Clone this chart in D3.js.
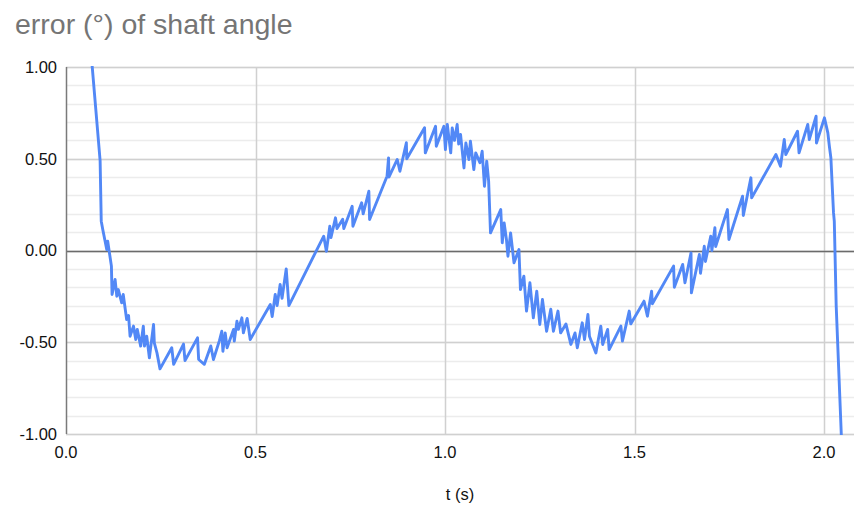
<!DOCTYPE html>
<html>
<head>
<meta charset="utf-8">
<script src="https://cdn.jsdelivr.net/npm/d3@7"></script>
<style>
  body { margin: 0; background: #fff; }
  svg { display: block; font-family: Arial, "Liberation Sans", sans-serif; }
</style>
</head>
<body>
<svg id="chart" width="867" height="528"></svg>
<script>
// values
const tSec = [
  0.068, 0.090, 0.093, 0.097, 0.1075, 0.110, 0.1198, 0.1215, 0.1295, 0.134,
  0.138, 0.147, 0.151, 0.160, 0.165, 0.169, 0.178, 0.184, 0.188, 0.197,
  0.204, 0.207, 0.213, 0.220, 0.231, 0.233, 0.240, 0.248, 0.279, 0.284,
  0.310, 0.314, 0.347, 0.350, 0.365, 0.382, 0.389, 0.405, 0.411, 0.414,
  0.420, 0.425, 0.442, 0.444, 0.451, 0.455, 0.464, 0.468, 0.478, 0.486,
  0.539, 0.544, 0.552, 0.557, 0.565, 0.570, 0.581, 0.588, 0.662, 0.680,
  0.687, 0.696, 0.699, 0.711, 0.715, 0.730, 0.733, 0.755, 0.757, 0.780,
  0.784, 0.799, 0.801, 0.847, 0.851, 0.852, 0.874, 0.881, 0.898, 0.899,
  0.946, 0.948, 0.975, 0.977, 0.997, 1.001, 1.006, 1.015, 1.019, 1.025,
  1.032, 1.036, 1.041, 1.050, 1.055, 1.063, 1.067, 1.076, 1.081, 1.092,
  1.098, 1.104, 1.110, 1.115, 1.120, 1.147, 1.151, 1.156, 1.162, 1.166,
  1.173, 1.182, 1.195, 1.199, 1.208, 1.215, 1.224, 1.233, 1.242, 1.250,
  1.257, 1.268, 1.279, 1.286, 1.298, 1.305, 1.319, 1.332, 1.343, 1.349,
  1.362, 1.368, 1.377, 1.381, 1.398, 1.411, 1.416, 1.429, 1.433, 1.464,
  1.468, 1.486, 1.490, 1.525, 1.534, 1.545, 1.547, 1.603, 1.605, 1.627,
  1.633, 1.649, 1.650, 1.671, 1.674, 1.684, 1.687, 1.701, 1.704, 1.712,
  1.714, 1.745, 1.749, 1.785, 1.787, 1.807, 1.809, 1.873, 1.885, 1.895,
  1.899, 1.930, 1.934, 1.957, 1.961, 1.979, 1.980, 2.001, 2.010, 2.014,
  2.018, 2.025, 2.027, 2.032, 2.046
];

const errDeg = [
  1.03, 0.49, 0.16, 0.114, 0.005, 0.051, -0.085, -0.24, -0.158, -0.249,
  -0.213, -0.285, -0.24, -0.376, -0.354, -0.467, -0.412, -0.485, -0.43, -0.521,
  -0.412, -0.521, -0.467, -0.585, -0.403, -0.503, -0.558, -0.645, -0.53, -0.62,
  -0.51, -0.60, -0.476, -0.594, -0.62, -0.52, -0.594, -0.49, -0.44, -0.549,
  -0.449, -0.53, -0.43, -0.494, -0.385, -0.43, -0.367, -0.449, -0.37, -0.485,
  -0.294, -0.36, -0.24, -0.30, -0.185, -0.26, -0.10, -0.30, 0.005, 0.078,
  -0.004, 0.132, 0.07, 0.178, 0.12, 0.17, 0.12, 0.241, 0.132, 0.26,
  0.20, 0.323, 0.169, 0.405, 0.505, 0.40, 0.496, 0.432, 0.587, 0.50,
  0.669, 0.532, 0.677, 0.568, 0.677, 0.55, 0.687, 0.532, 0.668, 0.60,
  0.687, 0.58, 0.632, 0.45, 0.586, 0.496, 0.596, 0.441, 0.532, 0.478,
  0.541, 0.35, 0.487, 0.38, 0.096, 0.223, 0.042, 0.15, 0.06, -0.031,
  0.096, -0.067, 0.005, -0.213, -0.14, -0.33, -0.176, -0.367, -0.222, -0.403,
  -0.267, -0.44, -0.32, -0.44, -0.33, -0.449, -0.40, -0.512, -0.449, -0.53,
  -0.394, -0.485, -0.349, -0.467, -0.558, -0.412, -0.512, -0.43, -0.54, -0.412,
  -0.494, -0.33, -0.40, -0.276, -0.358, -0.222, -0.29, -0.085, -0.20, -0.076,
  -0.176, -0.013, -0.231, -0.022, -0.124, 0.023, -0.06, 0.078, 0.0, 0.124,
  0.022, 0.223, 0.06, 0.296, 0.191, 0.396, 0.287, 0.523, 0.459, 0.605,
  0.523, 0.65, 0.532, 0.687, 0.605, 0.732, 0.586, 0.723, 0.641, 0.568,
  0.505, 0.205, 0.16, -0.30, -1.03
];

const xTicks = [0, 0.5, 1, 1.5, 2];
const yTicks = [-1, -0.5, 0, 0.5, 1];

const chartTitle = "error (°) of shaft angle";
const xTitle = "t (s)";

const data = tSec.map((t, i) => ({ t: t, v: errDeg[i] }));

const margin = { top: 67, right: 13, bottom: 94, left: 66 };
const width = 867, height = 528;

const svg = d3.select("#chart");

const x = d3.scaleLinear()
  .domain([0, 2.079])
  .range([margin.left, width - margin.right]);

const y = d3.scaleLinear()
  .domain([-1, 1])
  .range([height - margin.bottom, margin.top]);

// plain hyphen for negatives, like the original
const fmtY = d => d3.format(".2f")(d).replace("−", "-");
const fmtX = d => d3.format(".1f")(d);

// minor horizontal grid
svg.append("g")
  .selectAll("line")
  .data(y.ticks(20))
  .join("line")
  .attr("x1", x.range()[0])
  .attr("x2", x.range()[1])
  .attr("y1", d => Math.round(y(d)) + 0.5)
  .attr("y2", d => Math.round(y(d)) + 0.5)
  .attr("stroke", "#ececec")
  .attr("stroke-width", 1.5);

// major horizontal grid
svg.append("g")
  .selectAll("line")
  .data(yTicks)
  .join("line")
  .attr("x1", x.range()[0])
  .attr("x2", x.range()[1])
  .attr("y1", d => Math.round(y(d)) + 0.5)
  .attr("y2", d => Math.round(y(d)) + 0.5)
  .attr("stroke", "#d0d0d0")
  .attr("stroke-width", 1.5);

// vertical grid
svg.append("g")
  .selectAll("line")
  .data(xTicks.filter(d => d > 0))
  .join("line")
  .attr("x1", d => Math.round(x(d)) + 0.5)
  .attr("x2", d => Math.round(x(d)) + 0.5)
  .attr("y1", y.range()[1])
  .attr("y2", y.range()[0])
  .attr("stroke", "#d0d0d0")
  .attr("stroke-width", 1.5);

// zero baseline and left axis
svg.append("line")
  .attr("x1", x.range()[0])
  .attr("x2", x.range()[1])
  .attr("y1", Math.round(y(0)) + 0.5)
  .attr("y2", Math.round(y(0)) + 0.5)
  .attr("stroke", "#6b6b6b")
  .attr("stroke-width", 1.5);

svg.append("line")
  .attr("x1", x.range()[0] + 0.5)
  .attr("x2", x.range()[0] + 0.5)
  .attr("y1", y.range()[1])
  .attr("y2", y.range()[0])
  .attr("stroke", "#7a7a7a")
  .attr("stroke-width", 1.5);

// the series
svg.append("clipPath")
  .attr("id", "plot-clip")
  .append("rect")
  .attr("x", x.range()[0])
  .attr("y", y.range()[1] - 1)
  .attr("width", x.range()[1] - x.range()[0])
  .attr("height", y.range()[0] - y.range()[1] + 2);

const line = d3.line()
  .x(d => x(d.t))
  .y(d => y(d.v));

svg.append("path")
  .datum(data)
  .attr("clip-path", "url(#plot-clip)")
  .attr("d", line)
  .attr("fill", "none")
  .attr("stroke", "#5288f6")
  .attr("stroke-width", 2.9)
  .attr("stroke-linejoin", "round");

// tick labels
svg.append("g")
  .selectAll("text")
  .data(yTicks)
  .join("text")
  .attr("x", x.range()[0] - 9)
  .attr("y", d => y(d))
  .attr("dy", "0.35em")
  .attr("text-anchor", "end")
  .attr("font-size", 16.5)
  .attr("fill", "#111")
  .text(fmtY);

svg.append("g")
  .selectAll("text")
  .data(xTicks)
  .join("text")
  .attr("x", d => x(d))
  .attr("y", y.range()[0] + 24)
  .attr("text-anchor", "middle")
  .attr("font-size", 16.5)
  .attr("fill", "#111")
  .text(fmtX);

// titles
svg.append("text")
  .attr("x", 15)
  .attr("y", 34)
  .attr("font-size", 28.5)
  .attr("fill", "#757575")
  .text(chartTitle);

svg.append("text")
  .attr("x", (x.range()[0] + x.range()[1]) / 2)
  .attr("y", 500)
  .attr("text-anchor", "middle")
  .attr("font-size", 16.5)
  .attr("fill", "#111")
  .text(xTitle);
</script>
</body>
</html>
